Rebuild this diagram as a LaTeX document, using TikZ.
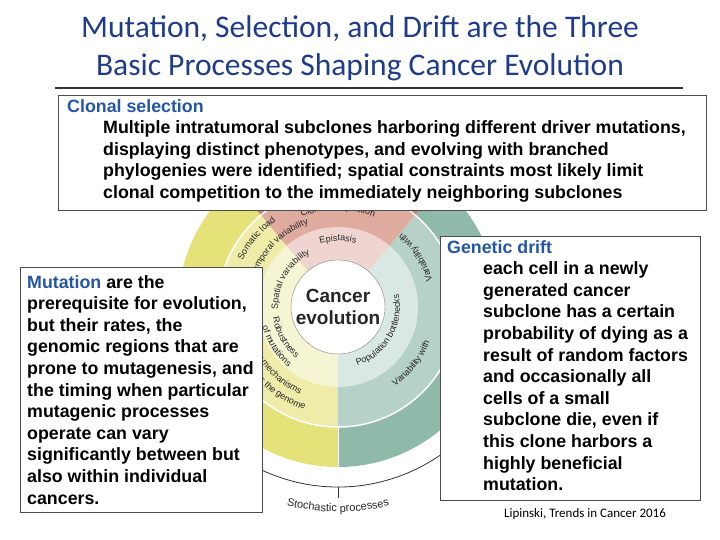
\documentclass[tikz,border=0pt]{standalone}
\usepackage{fontspec}
\setmainfont{Liberation Sans}
\newfontfamily\calib{Carlito}
\usetikzlibrary{decorations.text}
\definecolor{ttl}{HTML}{1F3B8C}
\definecolor{lbl}{HTML}{2456A8}
\definecolor{rd}{HTML}{CF7F6C}
\definecolor{yl}{HTML}{E6E27A}
\definecolor{tl}{HTML}{8FB9A9}
\tikzset{
  txtbox/.style={draw=black!70,fill=white,line width=0.8pt},
  body/.style={font=\fontsize{17.8}{21.6}\selectfont\bfseries,align=left,anchor=north west,inner sep=0pt},
  arclbl/.style={decorate,decoration={text along path,text align=center,text color=black!85}},
}
\begin{document}
\begin{tikzpicture}[x=1pt,y=1pt]
\useasboundingbox (0,0) rectangle (720,540);
\coordinate (C) at (338,233);
% wheel
\fill[yl] (C) -- ++(130:160) arc[start angle=130,end angle=270,radius=160] -- cycle;
\fill[tl] (C) -- ++(270:160) arc[start angle=270,end angle=410,radius=160] -- cycle;
\fill[rd] (C) -- ++(50:160) arc[start angle=50,end angle=130,radius=160] -- cycle;
\fill[white,opacity=0.35] (C) circle[radius=120];
\fill[white,opacity=0.5] (C) circle[radius=80];
\draw[white,line width=1.5pt] (C) circle[radius=120];
\draw[white,line width=1pt] (C) ++(270:120) -- ++(270:40);
\fill[white] (C) circle[radius=47];
\draw[black!50] (C) circle[radius=47];
\node[font=\fontsize{19}{22}\selectfont\bfseries,align=center,text=black!85] (ce) at (C) {Cancer\\evolution};
\draw[black!80,line width=0.8pt] (C) ++(200:180) arc[start angle=200,end angle=340,radius=180];
\draw[black!80,line width=0.8pt] (C) ++(270:180) -- ++(270:11);
% arc labels
\path[arclbl,decoration={text={|\fontsize{9}{9}\selectfont|Epistasis}}] (C) ++(115:66) arc[start angle=115,end angle=65,radius=66];
\path[arclbl,decoration={text={|\fontsize{9}{9}\selectfont|Clonal competition}}] (C) ++(120:97) arc[start angle=120,end angle=60,radius=97];
\path[arclbl,decoration={text={|\fontsize{9}{9}\selectfont|Spatial variability}}] (C) ++(185:60) arc[start angle=185,end angle=115,radius=60];
\path[arclbl,decoration={text={|\fontsize{9}{9}\selectfont|Temporal variability}}] (C) ++(165:88) arc[start angle=165,end angle=105,radius=88];
\path[arclbl,decoration={text={|\fontsize{9}{9}\selectfont|Somatic load}}] (C) ++(160:106) arc[start angle=160,end angle=120,radius=106];
\path[arclbl,decoration={text={|\fontsize{9}{9}\selectfont|Population bottlenecks}}] (C) ++(285:62) arc[start angle=285,end angle=375,radius=62];
\path[arclbl,decoration={text={|\fontsize{9}{9}\selectfont|Robustness}}] (C) ++(190:66) arc[start angle=190,end angle=230,radius=66];
\path[arclbl,decoration={text={|\fontsize{9}{9}\selectfont|of mutations}}] (C) ++(190:78) arc[start angle=190,end angle=235,radius=78];
\path[arclbl,decoration={text={|\fontsize{9}{9}\selectfont|Repair mechanisms}}] (C) ++(195:95) arc[start angle=195,end angle=250,radius=95];
\path[arclbl,decoration={text={|\fontsize{9}{9}\selectfont|across the genome}}] (C) ++(205:108) arc[start angle=205,end angle=258,radius=108];
\path[arclbl,decoration={text={|\fontsize{9}{9}\selectfont|Variability with}}] (C) ++(300:98) arc[start angle=300,end angle=345,radius=98];
\path[arclbl,decoration={text={|\fontsize{9}{9}\selectfont|Variability with}}] (C) ++(10:98) arc[start angle=10,end angle=55,radius=98];
\path[arclbl,decoration={text={|\fontsize{11}{11}\selectfont|Stochastic processes}}] (C) ++(250:205) arc[start angle=250,end angle=290,radius=205];
% title
\node[font=\calib\fontsize{31.5}{38}\selectfont,text=ttl,align=center] (title) at (360,492) {Mutation, Selection, and Drift are the Three\\Basic Processes Shaping Cancer Evolution};
\draw[black!80,line width=1.2pt] (55,452) coordinate (ul1) -- (683,452) coordinate (ul2);
% boxes
\node[txtbox,minimum width=648pt,minimum height=115pt,anchor=north west,inner sep=0pt] (cs) at (58,445) {};
\node[body] (cst) at (67,441) {\textcolor{lbl}{Clonal selection}\\
\hspace*{36pt}Multiple intratumoral subclones harboring different driver mutations,\\
\hspace*{36pt}displaying distinct phenotypes, and evolving with branched\\
\hspace*{36pt}phylogenies were identified; spatial constraints most likely limit\\
\hspace*{36pt}clonal competition to the immediately neighboring subclones};
\node[txtbox,minimum width=242pt,minimum height=245pt,anchor=north west,inner sep=0pt] (mu) at (20,273) {};
\node[body] (mut) at (27,265) {\textcolor{lbl}{Mutation} are the\\prerequisite for evolution,\\but their rates, the\\genomic regions that are\\prone to mutagenesis, and\\the timing when particular\\mutagenic processes\\operate can vary\\significantly between but\\also within individual\\cancers.};
\node[txtbox,minimum width=260pt,minimum height=264pt,anchor=north west,inner sep=0pt] (gd) at (440,304) {};
\node[body] (gdt) at (447,300) {\textcolor{lbl}{Genetic drift}\\
\hspace*{36pt}each cell in a newly\\
\hspace*{36pt}generated cancer\\
\hspace*{36pt}subclone has a certain\\
\hspace*{36pt}probability of dying as a\\
\hspace*{36pt}result of random factors\\
\hspace*{36pt}and occasionally all\\
\hspace*{36pt}cells of a small\\
\hspace*{36pt}subclone die, even if\\
\hspace*{36pt}this clone harbors a\\
\hspace*{36pt}highly beneficial\\
\hspace*{36pt}mutation.};
\node[font=\calib\fontsize{13}{15}\selectfont] (cite) at (585,26) {Lipinski, Trends in Cancer 2016};
\end{tikzpicture}
\end{document}
